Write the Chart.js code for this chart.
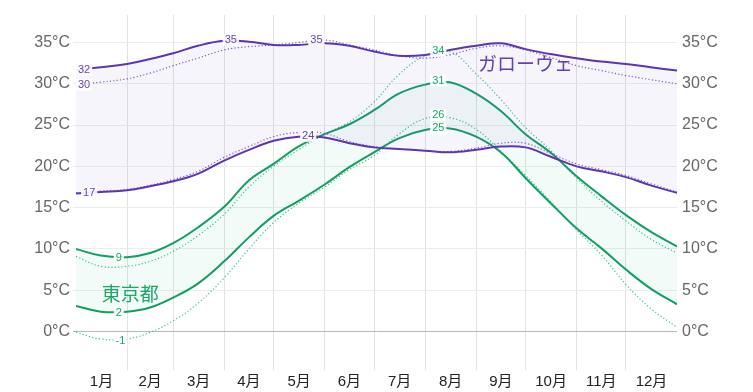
<!DOCTYPE html>
<html lang="ja">
<head>
<meta charset="UTF-8">
<script src="https://cdn.jsdelivr.net/npm/chart.js@4.4.1/dist/chart.umd.min.js"></script>
<title>Temperature</title>
<style>
  body { margin: 0; background: #fff; }
  #wrap { width: 753px; height: 392px; }
</style>
</head>
<body>
<div id="wrap"><canvas id="myChart"></canvas></div>
<script>
// day of year for each reading
const days = [0, 15, 31, 45, 59, 74, 90, 105, 120, 135, 151, 166, 181, 196, 212, 227, 243, 258, 273, 288, 304, 319, 334, 349, 365];

const galwayHigh    = [31.7, 32.0, 32.4, 33.0, 33.7, 34.6, 35.2, 35.1, 34.7, 34.7, 34.9, 34.6, 33.9, 33.4, 33.5, 34.1, 34.6, 34.9, 34.2, 33.6, 33.1, 32.7, 32.4, 32.0, 31.6];
const galwayHighDot = [29.9, 30.2, 30.6, 31.3, 32.2, 33.1, 34.1, 34.5, 34.7, 35.0, 35.3, 34.7, 34.1, 33.4, 33.1, 33.5, 34.3, 34.6, 34.1, 33.2, 32.2, 31.6, 31.0, 30.5, 30.0];
const galwayLow     = [16.7, 16.9, 17.1, 17.6, 18.2, 19.1, 20.7, 22.0, 23.1, 23.6, 23.5, 22.8, 22.3, 22.1, 21.9, 21.7, 22.0, 22.4, 22.3, 21.2, 20.0, 19.4, 18.7, 17.7, 16.8];
const galwayLowDot  = [16.8, 17.0, 17.2, 17.7, 18.4, 19.4, 21.1, 22.4, 23.6, 24.1, 24.0, 23.0, 22.4, 22.1, 21.9, 21.8, 22.2, 22.8, 22.8, 21.6, 20.3, 19.6, 18.9, 17.9, 16.9];

const tokyoHigh     = [10.0, 9.2, 9.0, 9.5, 10.7, 12.6, 15.1, 18.3, 20.3, 22.4, 23.9, 25.1, 26.8, 28.8, 29.9, 30.2, 28.8, 26.7, 23.9, 21.7, 18.8, 16.4, 14.1, 12.1, 10.3];
const tokyoHighDot  = [9.1, 7.9, 7.9, 8.5, 9.7, 11.6, 14.2, 17.5, 20.0, 22.0, 23.9, 25.4, 27.8, 31.1, 33.4, 33.9, 31.2, 28.1, 24.7, 22.0, 18.6, 15.8, 13.4, 11.2, 9.5];
const tokyoLow      = [3.1, 2.4, 2.4, 2.9, 4.1, 5.8, 8.5, 11.4, 14.0, 15.8, 17.8, 19.9, 21.7, 23.4, 24.4, 24.6, 23.6, 21.7, 18.6, 15.6, 12.5, 10.1, 7.5, 5.2, 3.3];
const tokyoLowDot   = [-0.1, -0.9, -0.9, -0.1, 1.3, 3.4, 6.5, 10.0, 13.2, 15.5, 17.5, 19.6, 21.3, 23.9, 25.8, 25.9, 24.5, 21.8, 18.9, 15.8, 12.3, 9.3, 5.7, 2.8, 0.5];

const monthStarts = [31, 59, 90, 120, 151, 181, 212, 243, 273, 304, 334];
const monthMids = [15.5, 45, 74.5, 105, 135.5, 166, 196.5, 227.5, 258, 288.5, 319, 349.5];
const monthLabels = ['1月', '2月', '3月', '4月', '5月', '6月', '7月', '8月', '9月', '10月', '11月', '12月'];
const tempTicks = [0, 5, 10, 15, 20, 25, 30, 35];

// [series, day, value, text]
const pointLabels = [
  [0, 0, 31.7, '32'], [0, 94, 35.3, '35'],
  [1, 0, 29.9, '30'], [1, 146, 35.3, '35'],
  [2, 8, 16.8, '17'], [2, 141, 23.7, '24'],
  [4, 26, 8.9, '9'], [4, 220, 30.4, '31'],
  [5, 220, 34.0, '34'],
  [6, 26, 2.2, '2'], [6, 220, 24.6, '25'],
  [7, 27, -1.2, '-1'], [7, 220, 26.2, '26']
];
// [text, day, value, group]
const areaNames = [['ガローウェ', 273, 32.2, 0], ['東京都', 33, 4.3, 1]];

const purple = '#5e35b1';
const purpleDot = '#7b57c4';
const green = '#0fa062';
const greenDot = '#3cc28c';
const fontFam = '"Liberation Sans", "Noto Sans CJK JP", sans-serif';

function pts(arr) {
  return days.map((d, i) => ({ x: d, y: arr[i] }));
}

function line(arr, color, dotted, fill) {
  return {
    data: pts(arr),
    borderColor: color,
    borderWidth: dotted ? 1.2 : 2,
    borderDash: dotted ? [1.2, 2.2] : [],
    pointRadius: 0,
    tension: 0.4,
    fill: fill || false,
    backgroundColor: 'transparent'
  };
}

const datasets = [
  line(galwayHigh, purple, false, { target: 2, above: 'rgba(120,80,210,0.06)', below: 'rgba(120,80,210,0.06)' }),
  line(galwayHighDot, purpleDot, true),
  line(galwayLow, purple, false),
  line(galwayLowDot, purpleDot, true),
  line(tokyoHigh, green, false, { target: 6, above: 'rgba(20,170,110,0.05)', below: 'rgba(20,170,110,0.05)' }),
  line(tokyoHighDot, greenDot, true),
  line(tokyoLow, green, false),
  line(tokyoLowDot, greenDot, true)
];

const labelPlugin = {
  id: 'markLabels',
  afterDatasetsDraw(chart) {
    const { ctx, chartArea, scales } = chart;
    ctx.save();
    ctx.font = '11px ' + fontFam;
    ctx.textAlign = 'center';
    ctx.textBaseline = 'middle';
    pointLabels.forEach(([si, day, val, txt]) => {
      const w = ctx.measureText(txt).width + 4;
      let x = scales.x.getPixelForValue(day);
      x = Math.max(x, chartArea.left + w / 2);
      const y = scales.y.getPixelForValue(val);
      ctx.fillStyle = 'rgba(255,255,255,0.9)';
      ctx.fillRect(x - w / 2, y - 6, w, 12);
      ctx.fillStyle = si < 4 ? '#6a43b8' : '#1aa86a';
      ctx.fillText(txt, x, y);
    });
    ctx.font = '19px ' + fontFam;
    areaNames.forEach(([txt, day, val, g]) => {
      ctx.fillStyle = g === 0 ? '#6440b0' : '#18a866';
      ctx.fillText(txt, scales.x.getPixelForValue(day), scales.y.getPixelForValue(val));
    });
    ctx.restore();
  }
};

const yTicks = (s) => { s.ticks = tempTicks.map(v => ({ value: v })); };

new Chart(document.getElementById('myChart'), {
  type: 'line',
  data: { datasets: datasets },
  plugins: [labelPlugin],
  options: {
    responsive: true,
    maintainAspectRatio: false,
    animation: false,
    devicePixelRatio: 1,
    layout: { padding: 0 },
    plugins: { legend: { display: false }, tooltip: { enabled: false } },
    scales: {
      x: {
        type: 'linear', min: 0, max: 365, position: 'bottom',
        afterBuildTicks: (s) => { s.ticks = monthMids.map(v => ({ value: v })); },
        afterFit: (s) => { s.height = 22; },
        grid: { display: false, drawTicks: false },
        border: { display: false },
        ticks: {
          autoSkip: false, maxRotation: 0, padding: 3,
          color: '#222', font: { size: 15, family: fontFam },
          callback: (v, i) => monthLabels[i]
        }
      },
      xg: {
        type: 'linear', min: 0, max: 365, position: 'top',
        afterBuildTicks: (s) => { s.ticks = monthStarts.map(v => ({ value: v })); },
        afterFit: (s) => { s.height = 10; },
        grid: { color: '#e2e2e2', drawTicks: false },
        border: { display: false },
        ticks: { display: false }
      },
      y: {
        position: 'left', min: -4.66, max: 38.38,
        afterBuildTicks: yTicks,
        afterFit: (s) => { s.width = 76; },
        grid: {
          tickLength: 3,
          color: (c) => c.tick && c.tick.value === 0 ? '#b8b8b8' : '#ececec'
        },
        border: { display: false },
        ticks: {
          padding: 3, color: '#666', font: { size: 16, family: fontFam },
          callback: (v) => v + '°C'
        }
      },
      y2: {
        position: 'right', min: -4.66, max: 38.38,
        afterBuildTicks: yTicks,
        afterFit: (s) => { s.width = 76; },
        grid: { drawOnChartArea: false, drawTicks: false },
        border: { display: false },
        ticks: {
          padding: 5, color: '#666', font: { size: 16, family: fontFam },
          callback: (v) => v + '°C'
        }
      }
    }
  }
});
</script>
</body>
</html>
